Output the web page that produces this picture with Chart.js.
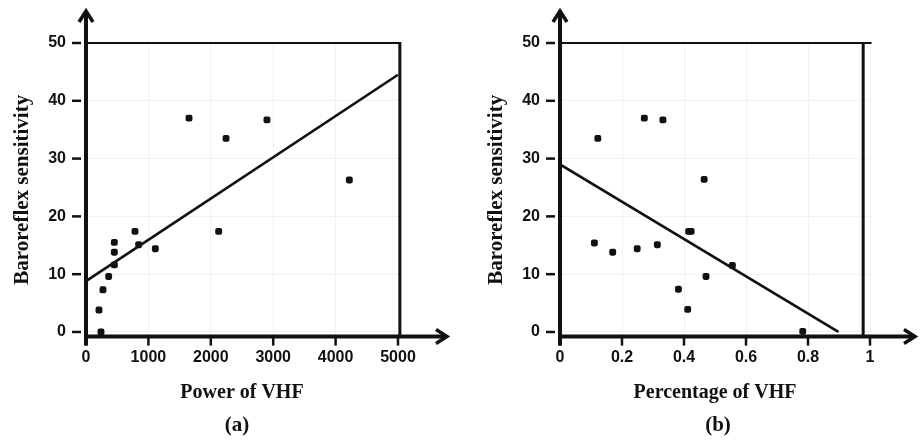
<!DOCTYPE html>
<html>
<head>
<meta charset="utf-8">
<script src="https://cdn.jsdelivr.net/npm/chart.js@4/dist/chart.umd.min.js"></script>
<style>
  html, body { margin: 0; padding: 0; background: #fff; }
  #wrap { position: relative; width: 921px; height: 441px; overflow: hidden; background: #fff; }
  canvas { position: absolute; top: 0; }
  #ca { left: 0; }
  #cb { left: 460px; }
</style>
</head>
<body>
<div id="wrap">
  <canvas id="ca" width="460" height="441"></canvas>
  <canvas id="cb" width="461" height="441"></canvas>
</div>
<script>
// ---- Data ----
const yTicks = [0, 10, 20, 30, 40, 50];

// Panel (a): Power of VHF vs Baroreflex sensitivity
const powerVHF = [208, 240, 272, 363, 454, 454, 454, 785, 844, 1111, 1651, 2126, 2244, 2900, 4220];
const brsA     = [3.8, 0.0, 7.3, 9.6, 15.5, 13.8, 11.6, 17.4, 15.1, 14.4, 37.0, 17.4, 33.5, 36.7, 26.3];
const fitAX = [0, 5000];
const fitAY = [8.8, 44.5];
const xTicksA = [0, 1000, 2000, 3000, 4000, 5000];

// Panel (b): Percentage of VHF vs Baroreflex sensitivity
const pctVHF = [0.111, 0.122, 0.170, 0.249, 0.272, 0.314, 0.332, 0.382, 0.412, 0.415, 0.423, 0.465, 0.471, 0.556, 0.783];
const brsB   = [15.4, 33.5, 13.8, 14.4, 37.0, 15.1, 36.7, 7.4, 3.9, 17.4, 17.4, 26.4, 9.6, 11.5, 0.1];
const fitBX = [0, 0.898];
const fitBY = [29.0, 0];
const xTicksB = [0, 0.2, 0.4, 0.6, 0.8, 1];

const yTitle = 'Baroreflex sensitivity';

const tickFont = { family: '"Liberation Sans", Arial, sans-serif', size: 16, weight: 'bold' };
const titleFamily = '"Liberation Serif", "DejaVu Serif", serif';

// ---- Plugin drawing axes with arrows, frame, tick marks, caption ----
const axesPlugin = {
  id: 'axesArrows',
  afterDraw(chart, args, o) {
    const ctx = chart.ctx;
    const xs = chart.scales.x, ys = chart.scales.y;
    const ca = chart.chartArea;
    const x0 = xs.getPixelForValue(0);
    const yAxis = ca.bottom;
    const yTop = ys.getPixelForValue(50);
    ctx.save();
    ctx.strokeStyle = '#111';
    ctx.lineCap = 'butt';
    // top frame line
    ctx.lineWidth = 2;
    ctx.beginPath();
    ctx.moveTo(x0, yTop);
    ctx.lineTo(xs.getPixelForValue(o.topEnd), yTop);
    ctx.stroke();
    // right frame line
    const xr = xs.getPixelForValue(o.rightAt);
    ctx.lineWidth = 3;
    ctx.beginPath();
    ctx.moveTo(xr, yTop - 1);
    ctx.lineTo(xr, yAxis);
    ctx.stroke();
    // y tick marks
    ctx.lineWidth = 2.5;
    yTicks.forEach(v => {
      const py = ys.getPixelForValue(v);
      ctx.beginPath();
      ctx.moveTo(x0 - 14, py);
      ctx.lineTo(x0 - 5, py);
      ctx.stroke();
    });
    // x tick marks
    o.xticks.forEach(v => {
      const px = xs.getPixelForValue(v);
      ctx.beginPath();
      ctx.moveTo(px, yAxis);
      ctx.lineTo(px, yAxis + 9);
      ctx.stroke();
    });
    // y axis
    ctx.lineWidth = 4;
    ctx.beginPath();
    ctx.moveTo(x0, yAxis + 9);
    ctx.lineTo(x0, 12);
    ctx.stroke();
    // x axis
    ctx.beginPath();
    ctx.moveTo(x0, yAxis);
    ctx.lineTo(o.arrowX - 2, yAxis);
    ctx.stroke();
    // arrowheads
    ctx.lineWidth = 3.5;
    ctx.lineJoin = 'miter';
    ctx.beginPath();
    ctx.moveTo(x0 - 7, 22);
    ctx.lineTo(x0, 11);
    ctx.lineTo(x0 + 7, 22);
    ctx.stroke();
    ctx.beginPath();
    ctx.moveTo(o.arrowX - 11, yAxis - 7);
    ctx.lineTo(o.arrowX, yAxis);
    ctx.lineTo(o.arrowX - 11, yAxis + 7);
    ctx.stroke();
    // caption
    ctx.fillStyle = '#111';
    ctx.font = 'bold 21px ' + titleFamily;
    ctx.textAlign = 'center';
    ctx.textBaseline = 'middle';
    ctx.fillText(o.caption, (ca.left + ca.right) / 2 + o.capDx, 426);
    ctx.restore();
  }
};

function makeChart(id, xv, yv, fx, fy, xMax, xTicks, xTitle, opt) {
  const pts = xv.map((x, i) => ({ x: x, y: yv[i] }));
  const line = fx.map((x, i) => ({ x: x, y: fy[i] }));
  return new Chart(document.getElementById(id), {
    type: 'scatter',
    data: {
      datasets: [
        {
          data: pts,
          backgroundColor: '#111',
          borderColor: '#111',
          borderWidth: 0,
          pointStyle: 'rectRounded',
          pointRadius: 4
        },
        {
          type: 'line',
          data: line,
          borderColor: '#111',
          borderWidth: 2.6,
          pointRadius: 0,
          fill: false,
          tension: 0
        }
      ]
    },
    options: {
      responsive: false,
      animation: false,
      devicePixelRatio: 1,
      layout: { padding: { top: 43, right: opt.padRight, left: 0, bottom: 0 } },
      plugins: {
        legend: { display: false },
        tooltip: { enabled: false },
        axesArrows: {
          topEnd: opt.topEnd, rightAt: opt.rightAt, xticks: xTicks,
          arrowX: opt.arrowX, caption: opt.caption, capDx: opt.capDx
        }
      },
      scales: {
        x: {
          type: 'linear',
          min: 0,
          max: xMax,
          afterBuildTicks: s => { s.ticks = xTicks.map(v => ({ value: v })); },
          afterFit: s => { s.height = 104.4; },
          grid: { color: '#f1f1f1', drawTicks: false },
          border: { display: false },
          ticks: {
            padding: 11,
            color: '#111',
            font: tickFont,
            callback: v => String(v)
          },
          title: {
            display: true,
            text: xTitle,
            color: '#111',
            font: { family: titleFamily, size: 20, weight: 'bold' },
            padding: { top: 0, bottom: 36 }
          }
        },
        y: {
          type: 'linear',
          min: -0.8,
          max: 50,
          afterBuildTicks: s => { s.ticks = yTicks.map(v => ({ value: v })); },
          afterFit: s => { s.width = opt.yWidth; },
          grid: { color: '#f1f1f1', drawTicks: false },
          border: { display: false },
          ticks: {
            padding: 20,
            color: '#111',
            font: tickFont,
            callback: v => String(v)
          },
          title: {
            display: true,
            text: yTitle,
            color: '#111',
            font: { family: titleFamily, size: 21, weight: 'bold' },
            padding: { top: opt.yTitlePad, bottom: 0 }
          }
        }
      }
    },
    plugins: [axesPlugin]
  });
}

makeChart('ca', powerVHF, brsA, fitAX, fitAY, 5000, xTicksA, 'Power of VHF',
  { padRight: 62, yWidth: 86, yTitlePad: 10, topEnd: 5030, rightAt: 5030, arrowX: 447, caption: '(a)', capDx: -5 });
makeChart('cb', pctVHF, brsB, fitBX, fitBY, 1, xTicksB, 'Percentage of VHF',
  { padRight: 51, yWidth: 100, yTitlePad: 24, topEnd: 1.005, rightAt: 0.978, arrowX: 455, caption: '(b)', capDx: 3 });
</script>
</body>
</html>
